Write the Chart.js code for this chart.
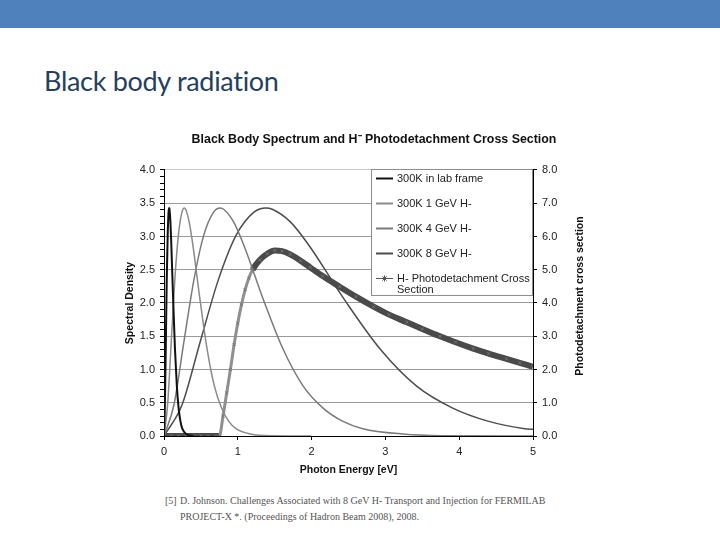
<!DOCTYPE html>
<html>
<head>
<meta charset="utf-8">
<title>Black body radiation</title>
<script src="https://cdn.jsdelivr.net/npm/chart.js@4.4.1/dist/chart.umd.min.js"></script>
<style>
  body { margin: 0; width: 720px; height: 540px; background: #fff; position: relative; overflow: hidden; }
  .band { position: absolute; left: 0; top: 0; width: 720px; height: 28px; background: #4f81bd; }
  h1 { position: absolute; left: 44px; top: 67px; margin: 0; font: 400 27px/27px Lato, sans-serif; letter-spacing: -0.3px; color: #243f60; }
  #wrap { position: absolute; left: 115px; top: 125px; width: 518px; height: 360px; }
  .ref { position: absolute; left: 180px; font: 10px "Liberation Serif", serif; color: #555; white-space: nowrap; }
  .ref span { position: absolute; left: -15px; }
</style>
</head>
<body>
<div class="band"></div>
<h1>Black body radiation</h1>
<div id="wrap"><canvas id="chart" width="518" height="360"></canvas></div>
<div class="ref" style="top:495px"><span>[5]</span>D. Johnson. Challenges Associated with 8 GeV H- Transport and Injection for FERMILAB</div>
<div class="ref" style="top:511px">PROJECT-X *. (Proceedings of Hadron Beam 2008), 2008.</div>
<script>
// photon energy [eV] / spectral density
const labFrameE = [0, 0.012, 0.025, 0.037, 0.05, 0.062, 0.07, 0.074, 0.087, 0.099, 0.124, 0.149, 0.174, 0.198, 0.223, 0.248, 0.3, 0.4];
const labFrameS = [0, 0.47, 1.41, 2.34, 3.02, 3.37, 3.43, 3.41, 3.22, 2.88, 2.05, 1.30, 0.75, 0.42, 0.22, 0.11, 0.03, 0];

const gev1E = [0, 0.049, 0.098, 0.146, 0.195, 0.244, 0.275, 0.293, 0.341, 0.39, 0.488, 0.585, 0.683, 0.78, 0.878, 0.975, 1.17, 1.46, 2.0];
const gev1S = [0, 0.47, 1.41, 2.34, 3.02, 3.37, 3.43, 3.41, 3.22, 2.88, 2.05, 1.30, 0.75, 0.42, 0.22, 0.11, 0.03, 0.003, 0];

const gev4E = [0, 0.135, 0.269, 0.404, 0.539, 0.674, 0.76, 0.808, 0.943, 1.078, 1.347, 1.616, 1.886, 2.155, 2.425, 2.694, 3.233, 3.77, 5];
const gev4S = [0, 0.47, 1.41, 2.34, 3.02, 3.37, 3.43, 3.41, 3.22, 2.88, 2.05, 1.30, 0.75, 0.42, 0.22, 0.11, 0.03, 0.005, 0];

const gev8E = [0, 0.245, 0.489, 0.734, 0.978, 1.223, 1.38, 1.467, 1.712, 1.956, 2.445, 2.934, 3.423, 3.912, 4.401, 4.89, 5];
const gev8S = [0, 0.47, 1.41, 2.34, 3.02, 3.37, 3.43, 3.41, 3.22, 2.88, 2.05, 1.30, 0.75, 0.42, 0.22, 0.11, 0.10];

// H- photodetachment cross section (right axis)
const crossE = [0, 0.1, 0.2, 0.3, 0.4, 0.5, 0.6, 0.7, 0.75, 0.8, 0.85, 0.9, 0.95, 1.0, 1.05, 1.1, 1.15, 1.2, 1.3, 1.4, 1.5, 1.6, 1.71, 1.85, 1.98, 2.15, 2.38, 2.6, 2.84, 3.05, 3.29, 3.5, 3.74, 3.95, 4.19, 4.4, 4.64, 4.82, 5.0];
const crossC = [0, 0, 0, 0, 0, 0, 0, 0, 0, 0.6, 1.3, 2.0, 2.75, 3.4, 3.95, 4.4, 4.75, 5.0, 5.3, 5.48, 5.58, 5.56, 5.46, 5.27, 5.07, 4.81, 4.49, 4.19, 3.89, 3.65, 3.42, 3.22, 3.0, 2.82, 2.63, 2.48, 2.32, 2.2, 2.08];

const seriesLabels = ['300K in lab frame', '300K 1 GeV H-', '300K 4 GeV H-', '300K 8 GeV H-', 'H- Photodetachment Cross Section'];
const chartTitle = 'Black Body Spectrum and H\u207B Photodetachment Cross Section';
const xTitle = 'Photon Energy [eV]';
const yTitle = 'Spectral Density';
const y2Title = 'Photodetachment cross section';

const FONT = 'Arial, "Liberation Sans", sans-serif';
const toPoints = (xs, ys) => xs.map((x, i) => ({ x: x, y: ys[i] }));
const isMajor = (v) => Math.abs(v * 2 - Math.round(v * 2)) < 1e-6;

// legend drawn as a box inside the plot, top right
const legendBox = {
  id: 'legendBox',
  afterDatasetsDraw(chart) {
    const { ctx, chartArea } = chart;
    const w = 162, h = 126;
    const left = chartArea.right - w, top = chartArea.top - 1;
    ctx.save();
    ctx.fillStyle = '#fff';
    ctx.fillRect(left, top, w, h);
    ctx.strokeStyle = '#8c8c8c';
    ctx.lineWidth = 1;
    ctx.strokeRect(left + 0.5, top + 0.5, w - 1, h);
    ctx.font = '11px ' + FONT;
    ctx.textBaseline = 'middle';
    chart.data.datasets.forEach((ds, i) => {
      const y = Math.round(top + 9.5 + i * 25) + 0.5;
      ctx.strokeStyle = ds.legendColor;
      ctx.lineWidth = ds.legendWidth;
      ctx.beginPath();
      ctx.moveTo(left + 5, y);
      ctx.lineTo(left + 22, y);
      ctx.stroke();
      if (ds.pointRadius) {
        Chart.helpers.drawPoint(ctx, { pointStyle: 'star', radius: 3, borderWidth: 1 }, left + 13.5, y);
      }
      // wrap label to the box
      ctx.fillStyle = '#222';
      const words = ds.label.split(' ');
      let line = '', ly = y;
      words.forEach((word) => {
        const test = line ? line + ' ' + word : word;
        if (ctx.measureText(test).width > w - 24 && line) {
          ctx.fillText(line, left + 26, ly);
          line = word;
          ly += 11.5;
        } else {
          line = test;
        }
      });
      ctx.fillText(line, left + 26, ly);
    });
    ctx.restore();
  }
};

// right axis title reads bottom-to-top like the left one
const rightTitle = {
  id: 'rightTitle',
  afterDraw(chart) {
    const { ctx, chartArea } = chart;
    ctx.save();
    ctx.translate(chartArea.right + 47, (chartArea.top + chartArea.bottom) / 2 - 7);
    ctx.rotate(-Math.PI / 2);
    ctx.font = 'bold 10.5px ' + FONT;
    ctx.textAlign = 'center';
    ctx.textBaseline = 'middle';
    ctx.fillStyle = '#111';
    ctx.fillText(y2Title, 0, 0);
    ctx.restore();
  }
};

const thinLine = (label, xs, ys, color, width) => ({
  label: label,
  data: toPoints(xs, ys),
  borderColor: color,
  legendColor: color,
  legendWidth: 2,
  borderWidth: width,
  pointRadius: 0,
  cubicInterpolationMode: 'monotone',
  yAxisID: 'y'
});

new Chart(document.getElementById('chart'), {
  type: 'line',
  data: {
    datasets: [
      thinLine(seriesLabels[0], labFrameE, labFrameS, '#111', 2),
      thinLine(seriesLabels[1], gev1E, gev1S, '#8a8a8a', 1.5),
      thinLine(seriesLabels[2], gev4E, gev4S, '#7a7a7a', 1.5),
      thinLine(seriesLabels[3], gev8E, gev8S, '#4d4d4d', 1.5),
      {
        label: seriesLabels[4],
        data: toPoints(crossE, crossC),
        borderColor: '#4a4a4a',
        legendColor: '#555',
        legendWidth: 1,
        borderWidth: 6,
        segment: {
          borderColor: (c) => (c.p0.parsed.x >= 0.74 && c.p1.parsed.x <= 1.2 ? '#8f8f8f' : undefined),
          borderWidth: (c) => (c.p0.parsed.x >= 0.74 && c.p1.parsed.x <= 1.2 ? 3 : undefined)
        },
        pointStyle: 'crossRot',
        pointRadius: 2,
        pointBorderColor: '#777',
        pointBorderWidth: 1,
        cubicInterpolationMode: 'monotone',
        yAxisID: 'y2'
      }
    ]
  },
  options: {
    responsive: false,
    animation: false,
    devicePixelRatio: 1,
    layout: { padding: 0 },
    plugins: {
      legend: { display: false },
      tooltip: { enabled: false },
      title: {
        display: true,
        text: chartTitle,
        color: '#111',
        font: { family: FONT, size: 12.4, weight: 'bold' },
        padding: { top: 7.5, bottom: 22.6 }
      }
    },
    scales: {
      x: {
        type: 'linear',
        min: 0,
        max: 5,
        afterFit: (scale) => { scale.height = 49; },
        ticks: { stepSize: 1, color: '#222', font: { family: FONT, size: 11 }, padding: 5 },
        grid: { drawOnChartArea: false, tickLength: 4, tickColor: '#000' },
        border: { color: '#000', width: 1 },
        title: { display: true, text: xTitle, color: '#111', font: { family: FONT, size: 10.5, weight: 'bold' }, padding: { top: 0, bottom: 9 } }
      },
      y: {
        position: 'left',
        min: 0,
        max: 4,
        afterFit: (scale) => { scale.width = 49; },
        ticks: {
          stepSize: 0.1,
          autoSkip: false,
          color: '#222',
          font: { family: FONT, size: 11 },
          padding: 5,
          callback: (v) => (isMajor(v) ? v.toFixed(1) : '')
        },
        grid: {
          color: (c) => (c.tick && isMajor(c.tick.value) ? (c.tick.value === 4 ? '#c8c8c8' : '#9a9a9a') : 'rgba(0,0,0,0)'),
          tickColor: '#000',
          tickLength: 4
        },
        border: { color: '#000', width: 1 },
        title: { display: true, text: yTitle, color: '#111', font: { family: FONT, size: 10.5, weight: 'bold' }, padding: { top: 9, bottom: 0 } }
      },
      y2: {
        position: 'right',
        min: 0,
        max: 8,
        afterFit: (scale) => { scale.width = 100; },
        ticks: { stepSize: 1, color: '#222', font: { family: FONT, size: 11 }, padding: 5, callback: (v) => v.toFixed(1) },
        grid: { drawOnChartArea: false, tickLength: 4, tickColor: '#000' },
        border: { color: '#000', width: 1 }
      }
    }
  },
  plugins: [legendBox, rightTitle]
});
</script>
</body>
</html>
